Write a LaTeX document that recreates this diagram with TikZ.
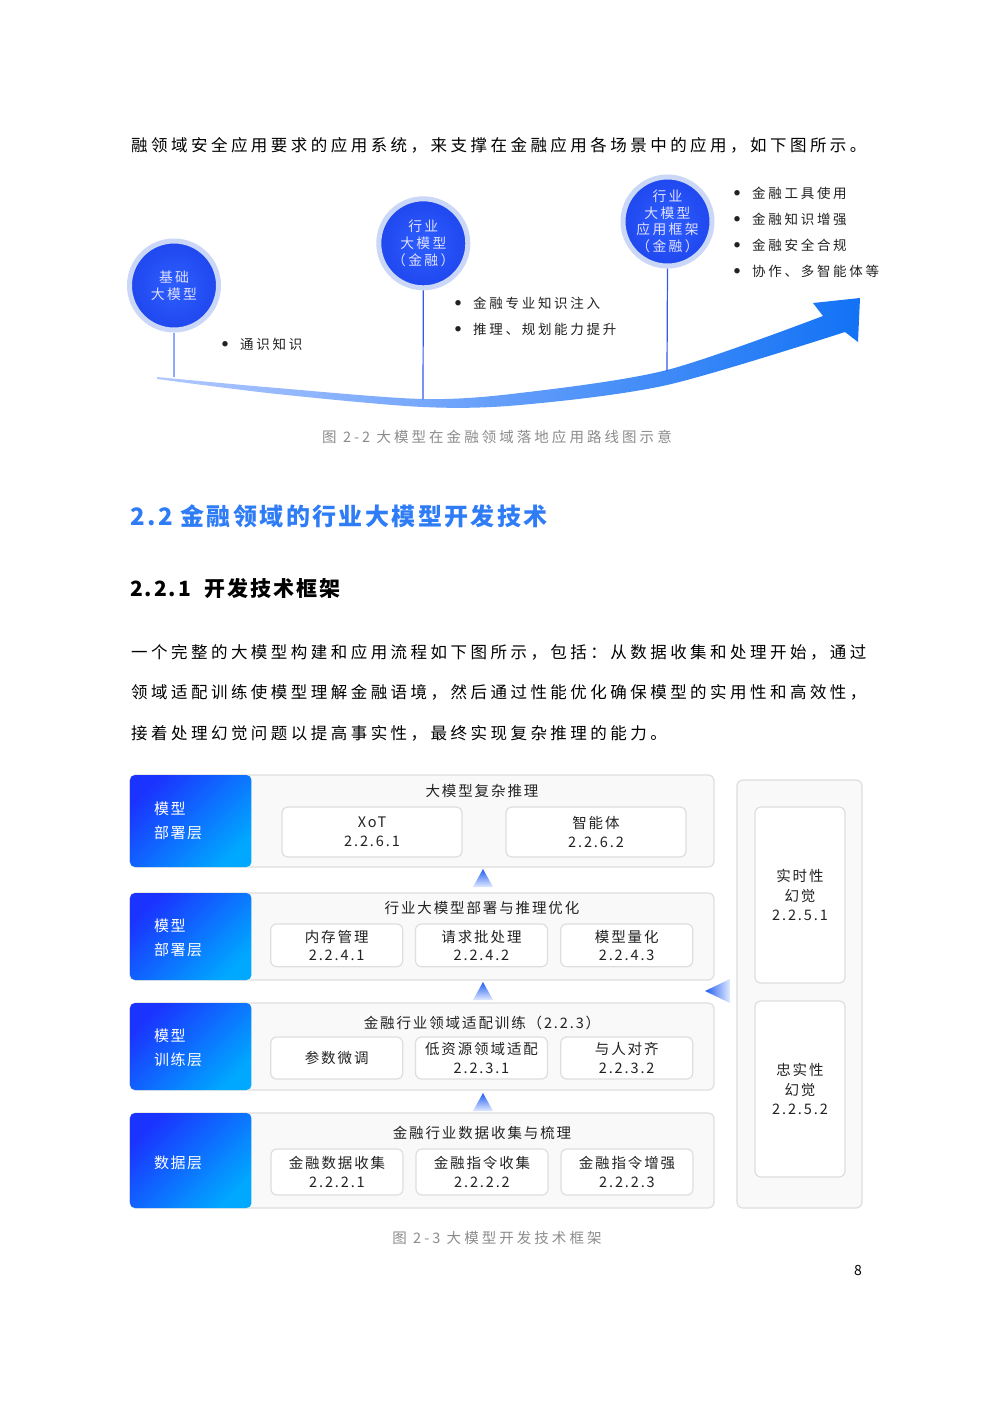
\documentclass[tikz,border=0pt]{standalone}
\usepackage{fontspec}
\setmainfont{Noto Sans CJK SC}
\definecolor{bubbleblue}{HTML}{2E5EFF}
\definecolor{bubbleedge}{HTML}{1F47EE}
\definecolor{glowblue}{HTML}{CAD7F6}
\definecolor{stemblue}{HTML}{3558EE}
\definecolor{stempale}{HTML}{8DA9FF}
\definecolor{bandpale}{HTML}{B2C8FF}
\definecolor{bandblue}{HTML}{1272F5}
\definecolor{headblue}{HTML}{2E7CF6}
\definecolor{capgray}{HTML}{8C8C8C}
\definecolor{inktext}{HTML}{222222}
\definecolor{panelfill}{HTML}{F9F9F9}
\definecolor{panelline}{HTML}{DEDEDE}
\definecolor{layerdark}{HTML}{1B33FF}
\definecolor{layerlight}{HTML}{00A8FF}
\definecolor{arrowblue}{HTML}{1F5CF2}
\definecolor{arrowpale}{HTML}{E2EBFF}
\newcommand{\bul}{\makebox[0pt][r]{\raisebox{2.6pt}{\fontsize{6}{6}\selectfont ●}\hspace{12pt}}}

\begin{document}
\begin{tikzpicture}[x=1pt, y=-1pt,
    body/.style={anchor=west, inner sep=0pt, text=black, align=left,
      font=\fontsize{16.5}{40.5}\selectfont\addfontfeature{LetterSpace=21}},
    caption/.style={inner sep=0pt, text=capgray,
      font=\fontsize{14.5}{18}\selectfont\addfontfeature{LetterSpace=21}},
    bubble/.style={circle, minimum size=89pt, inner sep=0pt, draw=glowblue, line width=5pt,
      inner color=bubbleblue, outer color=bubbleedge, align=center, text=white!88!blue,
      font=\fontsize{13.8}{16.7}\selectfont\addfontfeature{LetterSpace=17}},
    item/.style={anchor=west, inner sep=0pt, align=left, text=inktext,
      font=\fontsize{13.5}{26}\selectfont\addfontfeature{LetterSpace=20}},
    stem/.style={line width=1.2pt, draw=stemblue},
    panel/.style={draw=panelline, fill=panelfill, line width=1.2pt, rounded corners=6pt, inner sep=0pt},
    layer/.style={rounded corners=5pt, top color=layerdark, bottom color=layerlight,
      shading angle=45, inner sep=0pt},
    layertext/.style={anchor=west, inner sep=0pt, align=left, text=white,
      font=\fontsize{15}{24}\selectfont\addfontfeature{LetterSpace=10}},
    title/.style={inner sep=0pt, text=inktext,
      font=\fontsize{14.5}{18}\selectfont\addfontfeature{LetterSpace=13}},
    subbox/.style={draw=panelline, fill=white, line width=1.2pt, rounded corners=6pt,
      inner sep=0pt, align=center, text=inktext,
      font=\fontsize{14.5}{18.5}\selectfont\addfontfeature{LetterSpace=13}},
    upshade/.style={top color=arrowblue, bottom color=arrowpale}
  ]
  \useasboundingbox (0,0) rectangle (992,1403);
  \fill[white] (0,0) rectangle (992,1403);

  % Running text
  \node[body] (line0) at (131,145) {融领域安全应用要求的应用系统，来支撑在金融应用各场景中的应用，如下图所示。};

  % Road map: curved band with head
  \shade[left color=bandpale, right color=bandblue]
    plot[smooth] coordinates {(157,377) (277,388) (423,399) (520,393) (667,370) (823,316)}
    -- (813,303) -- (860,298) -- (858,342) -- (845,332)
    -- plot[smooth] coordinates {(845,332) (667,385) (520,405) (423,407) (277,394) (157,379)}
    -- cycle;
  \coordinate (foot1) at (174,377);
  \coordinate (foot2) at (423,399);
  \coordinate (foot3) at (667,371);

  % Stages
  \node[bubble] (base) at (174,285.5) {基础\\大模型};
  \node[bubble] (industry) at (423.3,243.3) {行业\\大模型\\（金融）};
  \node[bubble] (frame) at (667.5,221.5) {行业\\大模型\\应用框架\\（金融）};
  \draw[stem, draw=stempale, line width=2pt] (base.south) -- (foot1);
  \draw[stem] (industry.south) -- (foot2);
  \draw[stem] (frame.south) -- (foot3);

  % Stage notes
  \node[item] (note1) at (240,344) {\bul 通识知识};
  \node[item] (note2) at (473,316) {\bul 金融专业知识注入\\\bul 推理、规划能力提升};
  \node[item] (note3) at (752,232) {\bul 金融工具使用\\\bul 金融知识增强\\\bul 金融安全合规\\\bul 协作、多智能体等};

  \node[caption] (cap1) at (497,437) {图 2-2 大模型在金融领域落地应用路线图示意};

  % Headings
  \node[anchor=west, inner sep=0pt, text=headblue,
    font=\fontsize{24}{24}\selectfont\bfseries\addfontfeature{LetterSpace=10}] (sec) at (130,516) {2.2 金融领域的行业大模型开发技术};
  \node[anchor=west, inner sep=0pt, text=black,
    font=\fontsize{21}{21}\selectfont\bfseries\addfontfeature{LetterSpace=9}] (subsec) at (130,588) {2.2.1\hspace{7pt} 开发技术框架};

  \node[body] (para) at (131,692.5) {一个完整的大模型构建和应用流程如下图所示，包括：从数据收集和处理开始，通过\\
    领域适配训练使模型理解金融语境，然后通过性能优化确保模型的实用性和高效性，\\
    接着处理幻觉问题以提高事实性，最终实现复杂推理的能力。};

  % Framework: row 1
  \node[panel, minimum width=584, minimum height=92] (row1) at (422,821) {};
  \node[layer, minimum width=121.5, minimum height=92] (lay1) at (190.7,821) {};
  \node[layertext] (lay1t) at (154,821) {模型\\部署层};
  \node[title] (t1) at (482,791) {大模型复杂推理};
  \node[subbox, minimum width=180, minimum height=50] (xot) at (372,832) {XoT\\2.2.6.1};
  \node[subbox, minimum width=180, minimum height=50] (agent) at (596,832) {智能体\\2.2.6.2};

  % Framework: row 2
  \node[panel, minimum width=584, minimum height=87] (row2) at (422,936.5) {};
  \node[layer, minimum width=121.5, minimum height=87] (lay2) at (190.7,936.5) {};
  \node[layertext] (lay2t) at (154,937.5) {模型\\部署层};
  \node[title] (t2) at (482,908) {行业大模型部署与推理优化};
  \node[subbox, minimum width=132, minimum height=42.7] (mem) at (336.7,945.3) {内存管理\\2.2.4.1};
  \node[subbox, minimum width=132, minimum height=42.7] (batch) at (481.5,945.3) {请求批处理\\2.2.4.2};
  \node[subbox, minimum width=132, minimum height=42.7] (quant) at (626.7,945.3) {模型量化\\2.2.4.3};

  % Framework: row 3
  \node[panel, minimum width=584, minimum height=87] (row3) at (422,1046.5) {};
  \node[layer, minimum width=121.5, minimum height=87] (lay3) at (190.7,1046.5) {};
  \node[layertext] (lay3t) at (154,1048) {模型\\训练层};
  \node[title] (t3) at (482,1023) {金融行业领域适配训练（2.2.3）};
  \node[subbox, minimum width=132, minimum height=42] (tune) at (336.7,1058) {参数微调};
  \node[subbox, minimum width=132, minimum height=42] (lowres) at (481.5,1058) {低资源领域适配\\2.2.3.1};
  \node[subbox, minimum width=132, minimum height=42] (align) at (626.7,1058) {与人对齐\\2.2.3.2};

  % Framework: row 4
  \node[panel, minimum width=584, minimum height=95] (row4) at (422,1160.5) {};
  \node[layer, minimum width=121.5, minimum height=95] (lay4) at (190.7,1160.5) {};
  \node[layertext] (lay4t) at (154,1163) {数据层};
  \node[title] (t4) at (482,1133) {金融行业数据收集与梳理};
  \node[subbox, minimum width=132, minimum height=46] (collect) at (337,1172) {金融数据收集\\2.2.2.1};
  \node[subbox, minimum width=132, minimum height=46] (instr) at (482,1172) {金融指令收集\\2.2.2.2};
  \node[subbox, minimum width=132, minimum height=46] (augment) at (627,1172) {金融指令增强\\2.2.2.3};

  % Hallucination side panel
  \node[panel, minimum width=125, minimum height=428] (side) at (799.5,994) {};
  \node[subbox, minimum width=90, minimum height=176, font=\fontsize{14.5}{19.8}\selectfont\addfontfeature{LetterSpace=13}] (realtime) at (800,895) {实时性\\幻觉\\2.2.5.1};
  \node[subbox, minimum width=90, minimum height=176, font=\fontsize{14.5}{19.8}\selectfont\addfontfeature{LetterSpace=13}] (faithful) at (800,1089) {忠实性\\幻觉\\2.2.5.2};

  % Flow marks
  \shade[upshade] (483,869) -- (493,887) -- (473,887) -- cycle;
  \shade[upshade] (483,982) -- (493,1000) -- (473,1000) -- cycle;
  \shade[upshade] (483,1093) -- (493,1111) -- (473,1111) -- cycle;
  \shade[left color=arrowblue, right color=arrowpale] (705,991) -- (730,979) -- (730,1003) -- cycle;

  \node[caption] (cap2) at (497,1238) {图 2-3 大模型开发技术框架};
  \node[inner sep=0pt, font=\fontsize{14}{14}\selectfont] (page) at (858,1270) {8};
\end{tikzpicture}
\end{document}
